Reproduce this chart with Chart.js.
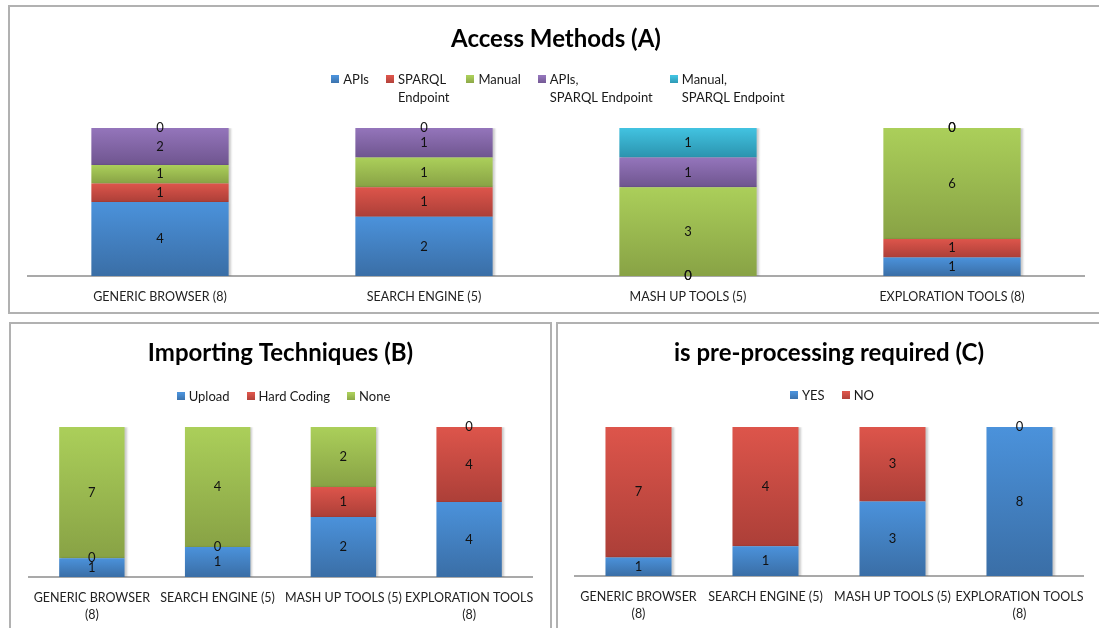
<!DOCTYPE html>
<html>
<head>
<meta charset="utf-8">
<script src="https://cdn.jsdelivr.net/npm/chart.js@4.4.1/dist/chart.umd.min.js"></script>
<style>
  html, body { margin: 0; padding: 0; background: #ffffff; overflow: hidden; }
  body { width: 1099px; height: 628px; position: relative; }
  .panel { position: absolute; box-sizing: border-box; border: 2px solid #b1b1b1; }
  canvas { position: absolute; }
</style>
</head>
<body>
<div class="panel" style="left:8px;top:5px;width:1100px;height:309px"></div>
<div class="panel" style="left:9px;top:322px;width:543px;height:330px"></div>
<div class="panel" style="left:556px;top:322px;width:560px;height:330px"></div>
<canvas id="accessChart" style="left:10px;top:7px" width="1089" height="305"></canvas>
<canvas id="importChart" style="left:11px;top:324px" width="539" height="304"></canvas>
<canvas id="preprocChart" style="left:558px;top:324px" width="541" height="304"></canvas>

<script>
// Tool categories (count of tools in brackets)
const categories = ['GENERIC BROWSER (8)', 'SEARCH ENGINE (5)', 'MASH UP TOOLS (5)', 'EXPLORATION TOOLS (8)'];
const tickLabelsWide = categories;
const tickLabelsNarrow = [['GENERIC BROWSER', '(8)'], 'SEARCH ENGINE (5)', 'MASH UP TOOLS (5)', ['EXPLORATION TOOLS', '(8)']];

// (A) Access methods
const accessNames = [['APIs'], ['SPARQL', 'Endpoint'], ['Manual'], ['APIs,', 'SPARQL Endpoint'], ['Manual,', 'SPARQL Endpoint']];
const apis          = [4, 2, 0, 1];
const sparqlEndpt   = [1, 1, 0, 1];
const manual        = [1, 1, 3, 6];
const apisSparql    = [2, 1, 1, 0];
const manualSparql  = [0, 0, 1, 0];

// (B) Importing techniques
const importNames = [['Upload'], ['Hard Coding'], ['None']];
const upload      = [1, 1, 2, 4];
const hardCoding  = [0, 0, 1, 4];
const noImport    = [7, 4, 2, 0];

// (C) Is pre-processing required
const preprocNames = [['YES'], ['NO']];
const preYes = [1, 1, 3, 8];
const preNo  = [7, 4, 3, 0];

// Gradient pairs (top shade, bottom shade)
const BLUE   = ['#4b92db', '#3a6ea6'];
const RED    = ['#dd554b', '#ac3f38'];
const GREEN  = ['#abcf5a', '#88a245'];
const PURPLE = ['#9475bb', '#6f558f'];
const CYAN   = ['#42c3e1', '#2b93ae'];

Chart.defaults.font.family = 'Lato, "Open Sans", sans-serif';
Chart.defaults.color = '#1a1a1a';

// Each bar is normalised to 100 % of its category total
function toPercent(seriesList) {
  const n = seriesList[0].length;
  const totals = [];
  for (let i = 0; i < n; i++) {
    let t = 0;
    seriesList.forEach(s => { if (s[i] != null) t += s[i]; });
    totals.push(t);
  }
  return seriesList.map(s => s.map((v, i) => (v == null || !totals[i]) ? null : v / totals[i] * 100));
}

// Vertical gradient spanning one stacked segment
function segmentFill(pair) {
  return (ctx) => {
    const chart = ctx.chart;
    const y = chart.scales && chart.scales.y;
    if (ctx.type !== 'data' || !chart.chartArea || !y) return pair[0];
    const i = ctx.dataIndex, d = ctx.datasetIndex;
    let lo = 0;
    for (let k = 0; k < d; k++) {
      const v = chart.data.datasets[k].data[i];
      if (v) lo += v;
    }
    const v = ctx.raw || 0;
    const top = y.getPixelForValue(lo + v);
    const bot = y.getPixelForValue(lo);
    if (!isFinite(top) || !isFinite(bot) || bot - top < 1) return pair[1];
    const g = chart.ctx.createLinearGradient(0, top, 0, bot);
    g.addColorStop(0, pair[0]);
    g.addColorStop(1, pair[1]);
    return g;
  };
}

// Title, legend, bar shadow and value labels
const panelDecor = {
  id: 'panelDecor',
  beforeDatasetsDraw(chart) {
    const c = chart.ctx;
    c.save();
    c.shadowColor = 'rgba(0,0,0,0.20)';
    c.shadowOffsetX = 2;
    c.shadowOffsetY = 0;
    c.shadowBlur = 2;
  },
  afterDatasetsDraw(chart) {
    const c = chart.ctx;
    c.restore();
    c.save();
    c.font = '13px Lato, "Open Sans", sans-serif';
    c.fillStyle = '#111111';
    c.textAlign = 'center';
    c.textBaseline = 'middle';
    chart.data.datasets.forEach((ds, d) => {
      const meta = chart.getDatasetMeta(d);
      meta.data.forEach((el, i) => {
        const n = ds.counts[i];
        if (n == null) return;
        c.fillText(String(n), el.x, (el.y + el.base) / 2);
      });
    });
    c.restore();
  },
  afterDraw(chart, args, opts) {
    const c = chart.ctx;
    const area = chart.chartArea;
    const cx = (area.left + area.right) / 2;
    c.save();
    // title
    c.font = 'bold 24px Lato, "Open Sans", sans-serif';
    c.fillStyle = '#000000';
    c.textAlign = 'center';
    c.textBaseline = 'middle';
    c.fillText(opts.title, cx, opts.titleY);
    // legend
    c.font = '13px Lato, "Open Sans", sans-serif';
    c.textAlign = 'left';
    const box = 8, gap = 4, sep = 17, lh = 17.5;
    const names = opts.names, cols = opts.colors;
    const widths = names.map(lines => box + gap + Math.max(...lines.map(l => c.measureText(l).width)));
    const total = widths.reduce((a, b) => a + b, 0) + sep * (names.length - 1);
    let x = cx - total / 2 + opts.legendShift;
    const ly = opts.legendY;
    names.forEach((lines, k) => {
      const g = c.createLinearGradient(0, ly - 4, 0, ly + 4);
      g.addColorStop(0, cols[k][0]);
      g.addColorStop(1, cols[k][1]);
      c.fillStyle = g;
      c.fillRect(Math.round(x), Math.round(ly - 5), box, box);
      c.fillStyle = '#1a1a1a';
      lines.forEach((l, j) => c.fillText(l, x + box + gap, ly + j * lh));
      x += widths[k] + sep;
    });
    c.restore();
  }
};

function makeChart(id, cfg) {
  const pct = toPercent(cfg.series);
  return new Chart(document.getElementById(id), {
    type: 'bar',
    data: {
      labels: cfg.ticks,
      datasets: cfg.series.map((s, k) => ({
        label: cfg.names[k].join(' '),
        data: pct[k],
        counts: s,
        backgroundColor: segmentFill(cfg.colors[k]),
        borderWidth: 0,
        barPercentage: 0.52,
        categoryPercentage: 1
      }))
    },
    options: {
      responsive: false,
      animation: false,
      devicePixelRatio: 1,
      layout: { padding: { left: cfg.left, right: cfg.right, top: cfg.top, bottom: 0 } },
      plugins: {
        legend: { display: false },
        tooltip: { enabled: false },
        title: { display: false },
        panelDecor: {
          title: cfg.title, titleY: cfg.titleY, legendY: cfg.legendY,
          legendShift: cfg.legendShift, names: cfg.names, colors: cfg.colors
        }
      },
      scales: {
        x: {
          stacked: true,
          grid: { display: false, drawTicks: false },
          border: { display: true, color: '#a9a9a9', width: 2 },
          ticks: { padding: 12, color: '#222222', maxRotation: 0, autoSkip: false,
                   font: { size: 12.5, lineHeight: '17px' } },
          afterFit(scale) { scale.height = cfg.xHeight; }
        },
        y: { stacked: true, display: false, min: 0, max: 100 }
      }
    },
    plugins: [panelDecor]
  });
}

makeChart('accessChart', {
  title: 'Access Methods (A)', titleY: 32, legendY: 73, legendShift: 2,
  ticks: tickLabelsWide, names: accessNames,
  series: [apis, sparqlEndpt, manual, apisSparql, manualSparql],
  colors: [BLUE, RED, GREEN, PURPLE, CYAN],
  left: 18, right: 15, top: 121, xHeight: 36
});

makeChart('importChart', {
  title: 'Importing Techniques (B)', titleY: 29, legendY: 73, legendShift: 3,
  ticks: tickLabelsNarrow, names: importNames,
  series: [upload, hardCoding, noImport],
  colors: [BLUE, RED, GREEN],
  left: 18, right: 18, top: 103, xHeight: 51
});

makeChart('preprocChart', {
  title: 'is pre-processing required (C)', titleY: 29, legendY: 72, legendShift: 3,
  ticks: tickLabelsNarrow, names: preprocNames,
  series: [preYes, preNo],
  colors: [BLUE, RED],
  left: 17, right: 16, top: 103, xHeight: 52
});
</script>
</body>
</html>
